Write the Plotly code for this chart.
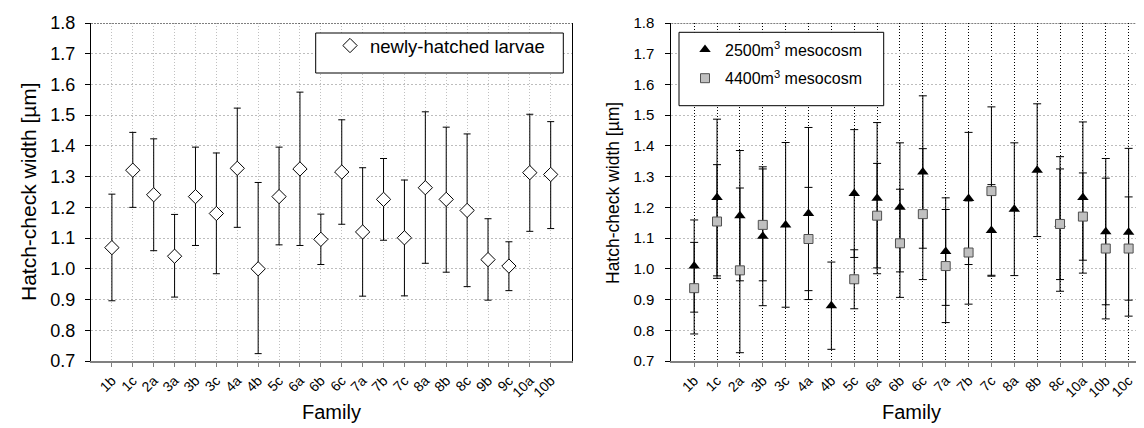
import plotly.graph_objects as go

# dados: larvas recem-eclodidas (painel esquerdo)
familias_larvas = ['1b', '1c', '2a', '3a', '3b', '3c', '4a', '4b', '5c', '6a', '6b',
                   '6c', '7a', '7b', '7c', '8a', '8b', '8c', '9b', '9c', '10a', '10b']
media_larvas = [1.069, 1.321, 1.241, 1.041, 1.235, 1.180, 1.327, 1.000, 1.235, 1.325, 1.096,
                1.315, 1.120, 1.226, 1.101, 1.264, 1.226, 1.190, 1.030, 1.009, 1.313, 1.307]
max_larvas = [1.243, 1.444, 1.423, 1.177, 1.396, 1.377, 1.523, 1.281, 1.396, 1.575, 1.178,
              1.485, 1.329, 1.359, 1.289, 1.511, 1.461, 1.439, 1.163, 1.088, 1.503, 1.479]
min_larvas = [0.896, 1.200, 1.059, 0.908, 1.076, 0.984, 1.135, 0.724, 1.078, 1.076, 1.014,
              1.145, 0.911, 1.093, 0.912, 1.018, 0.989, 0.942, 0.898, 0.929, 1.122, 1.131]

# dados: mesocosmos (painel direito)
familias_meso = ['1b', '1c', '2a', '3b', '3c', '4a', '4b', '5c', '6a', '6b',
                 '6c', '7a', '7b', '7c', '8a', '8b', '8c', '10a', '10b', '10c']
media_2500 = [1.009, 1.232, 1.173, 1.106, 1.143, 1.180, 0.880, 1.245, 1.230, 1.200,
              1.315, 1.056, 1.229, 1.125, 1.194, 1.321, 1.145, 1.232, 1.121, 1.119]
erro_2500 = [0.150, 0.255, 0.212, 0.226, 0.268, 0.280, 0.142, 0.208, 0.246, 0.210,
             0.248, 0.175, 0.215, 0.149, 0.216, 0.216, 0.180, 0.246, 0.238, 0.273]
media_4400 = [0.937, 1.154, 0.995, 1.143, None, 1.097, None, 0.966, 1.173, 1.083,
              1.178, 1.009, 1.053, 1.253, None, None, 1.146, 1.170, 1.066, 1.066]
erro_4400 = [0.149, 0.185, 0.268, 0.182, None, 0.168, None, 0.096, 0.170, 0.176,
             0.213, 0.184, 0.168, 0.274, None, None, 0.219, 0.142, 0.229, 0.168]

erro_sup = [s - m for s, m in zip(max_larvas, media_larvas)]
erro_inf = [m - i for m, i in zip(media_larvas, min_larvas)]

fonte = 'Liberation Sans, Arial, sans-serif'

fig = go.Figure()

fig.add_trace(go.Scatter(
    x=familias_larvas, y=media_larvas, mode='markers', name='newly-hatched larvae',
    marker=dict(symbol='diamond', size=11, color='white', line=dict(color='black', width=1)),
    error_y=dict(type='data', symmetric=False, array=erro_sup, arrayminus=erro_inf,
                 color='black', thickness=1, width=3.5),
    xaxis='x', yaxis='y', legend='legend'))

fig.add_trace(go.Scatter(
    x=familias_meso, y=media_2500, mode='markers', name='2500m<sup>3</sup> mesocosm',
    marker=dict(symbol='triangle-up', size=10, color='black'),
    error_y=dict(type='data', array=erro_2500, color='black', thickness=1, width=4),
    xaxis='x2', yaxis='y2', legend='legend2', legendgroup='a'))

fig.add_trace(go.Scatter(
    x=familias_meso, y=media_4400, mode='markers', name='4400m<sup>3</sup> mesocosm',
    marker=dict(symbol='square', size=9, color='#c0c0c0', line=dict(color='#505050', width=1)),
    error_y=dict(type='data', array=erro_4400, color='black', thickness=1, width=4),
    xaxis='x2', yaxis='y2', legend='legend2', legendgroup='b'))

eixo_y = dict(range=[0.7, 1.8], dtick=0.1, tickformat='.1f', showgrid=True,
              gridcolor='#bdbdbd', griddash='2px,2px', gridwidth=1, showline=True,
              linecolor='black', linewidth=1, mirror=True, ticks='outside', ticklen=5,
              tickcolor='black', zeroline=False, automargin=False,
              domain=[1 - 353 / 428, 1 - 15 / 428])
eixo_x = dict(type='category', showgrid=True, griddash='1px,2px', gridwidth=1, showline=True,
              linecolor='#808080', linewidth=2, ticks='outside', ticklen=4,
              tickcolor='#808080', tickangle=-45, zeroline=False, automargin=False,
              tickfont=dict(size=14, family=fonte))

fig.update_layout(
    width=1144, height=428,
    margin=dict(l=0, r=0, t=0, b=0),
    paper_bgcolor='white', plot_bgcolor='white',
    font=dict(family=fonte, color='black'),
    xaxis=dict(eixo_x, domain=[83 / 1144, 563.6 / 1144], range=[-1, 22],
               categoryorder='array', categoryarray=familias_larvas,
               gridcolor='#c0c0c0', anchor='y'),
    yaxis=dict(eixo_y, tickfont=dict(size=18, family=fonte), ticklabelstandoff=6, anchor='x'),
    xaxis2=dict(eixo_x, domain=[663.3 / 1144, 1143.5 / 1144], range=[-1, 20],
                categoryorder='array', categoryarray=familias_meso,
                gridcolor='black', anchor='y2'),
    yaxis2=dict(eixo_y, tickfont=dict(size=15, family=fonte), ticklabelstandoff=8, anchor='x2'),
    legend=dict(x=322 / 1144, y=1 - 38 / 428, xanchor='left', yanchor='middle',
                bgcolor='rgba(0,0,0,0)', font=dict(size=18.5, family=fonte)),
    legend2=dict(x=677 / 1144, y=1 - 56 / 428, xanchor='left', yanchor='middle',
                 bgcolor='rgba(0,0,0,0)', font=dict(size=16, family=fonte),
                 traceorder='grouped', tracegroupgap=5),
    showlegend=True,
)

# caixas das legendas e borda superior pontilhada
fig.add_shape(type='rect', xref='paper', yref='paper', x0=307.7 / 1144, x1=555.3 / 1144,
              y0=1 - 65 / 428, y1=1 - 25 / 428, line=dict(color='black', width=1),
              fillcolor='white', layer='above')
fig.add_shape(type='rect', xref='paper', yref='paper', x0=671 / 1144, x1=875.7 / 1144,
              y0=1 - 97.7 / 428, y1=1 - 24.3 / 428, line=dict(color='black', width=1),
              fillcolor='white', layer='above')
for xr, yr in [('x domain', 'y'), ('x2 domain', 'y2')]:
    fig.add_shape(type='line', xref=xr, yref=yr, x0=0, x1=1, y0=1.8, y1=1.8,
                  line=dict(color='black', width=1, dash='2px,1px'))

# titulos dos eixos
titulos = [('Hatch-check width [µm]', 20, 184, -90, 21),
           ('Hatch-check width [µm]', 605, 185, -90, 17.5),
           ('Family', 323, 404, 0, 20),
           ('Family', 903, 404, 0, 20)]
for texto, px, py, ang, tam in titulos:
    fig.add_annotation(text=texto, x=px / 1144, y=1 - py / 428, xref='paper', yref='paper',
                       xanchor='center', yanchor='middle', textangle=ang, showarrow=False,
                       font=dict(size=tam, family=fonte))

fig.write_html('out.html')
